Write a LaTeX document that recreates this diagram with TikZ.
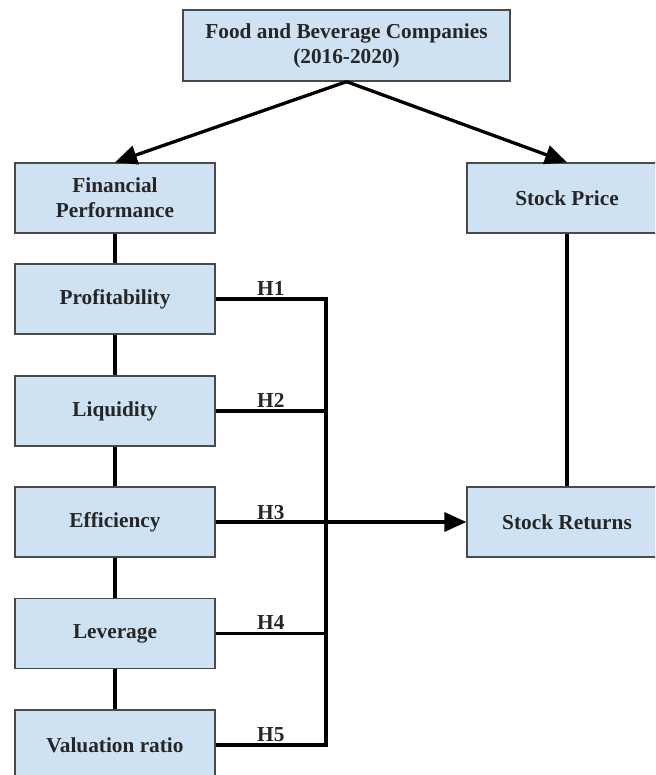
\documentclass[tikz,border=0pt]{standalone}
\usepackage{fontspec}
\setmainfont{Liberation Serif}
\usetikzlibrary{arrows.meta}
\definecolor{boxblue}{HTML}{CFE2F3}
\definecolor{boxedge}{HTML}{4A4A4A}

\begin{document}
\begin{tikzpicture}[x=1pt,y=-1pt,>={Triangle[length=22pt,width=19pt]},
  font=\fontsize{21.3}{25}\selectfont\bfseries,line join=miter,
  box/.style={draw=boxedge,line width=1.3pt,fill=boxblue,text=black!85,
    minimum width=200pt,minimum height=70pt,align=center,inner sep=0pt},
  link/.style={line width=3.3pt},
  hyp/.style={above=2pt,inner sep=0pt,text=black!85}]
\clip (0,0) rectangle (655,775);
\node[box,minimum width=327pt,minimum height=71pt] (firms) at (346.5,45.5) {Food and Beverage Companies\\(2016-2020)};
\node[box] (perf) at (115,198) {Financial\\Performance};
\node[box] (prof) at (115,299) {Profitability};
\node[box] (liq) at (115,411) {Liquidity};
\node[box] (eff) at (115,522) {Efficiency};
\node[box] (lev) at (115,633.5) {Leverage};
\node[box] (val) at (115,745) {Valuation ratio};
\node[box] (price) at (567,198) {Stock Price};
\node[box] (ret) at (567,522) {Stock Returns};
\coordinate (bar) at (326,0);
\draw[link,->] (firms.south) -- (perf.north);
\draw[link,->] (firms.south) -- (price.north);
\foreach \a/\b in {perf/prof,prof/liq,liq/eff,eff/lev,lev/val}
  \draw[link] (\a.south) -- (\b.north);
\draw[link] (price.south) -- (ret.north);
\draw[link] (prof.east) -- node[hyp]{H1} (prof.east -| bar) -- (val.east -| bar) -- node[hyp]{H5} (val.east);
\draw[link] (liq.east) -- node[hyp]{H2} (liq.east -| bar);
\draw[link] (lev.east) -- node[hyp]{H4} (lev.east -| bar);
\draw[link,->] (eff.east) -- (ret.west);
\path (eff.east) -- node[hyp]{H3} (eff.east -| bar);
\end{tikzpicture}
\end{document}
